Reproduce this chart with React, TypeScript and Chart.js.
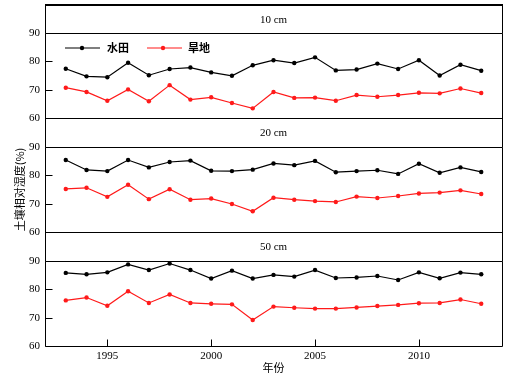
import React, { useEffect, useRef } from 'react';
import { Chart, registerables } from 'chart.js';

Chart.register(...registerables);

// ---------- data ----------
const years = [1993, 1994, 1995, 1996, 1997, 1998, 1999, 2000, 2001, 2002, 2003, 2004, 2005, 2006, 2007, 2008, 2009, 2010, 2011, 2012, 2013];

const paddy10 = [77.4, 74.7, 74.4, 79.5, 75.1, 77.3, 77.8, 76.1, 74.9, 78.6, 80.4, 79.4, 81.4, 76.8, 77.1, 79.2, 77.3, 80.4, 75.0, 78.8, 76.7];
const dry10 = [70.7, 69.2, 66.1, 70.1, 65.9, 71.6, 66.5, 67.3, 65.3, 63.4, 69.2, 67.1, 67.2, 66.1, 68.1, 67.5, 68.1, 68.9, 68.7, 70.4, 68.8];

const paddy20 = [85.4, 81.9, 81.5, 85.4, 82.8, 84.7, 85.2, 81.6, 81.5, 82.0, 84.2, 83.6, 85.1, 81.1, 81.5, 81.8, 80.5, 84.1, 80.9, 82.8, 81.2];
const dry20 = [75.2, 75.6, 72.4, 76.7, 71.6, 75.1, 71.4, 71.8, 69.9, 67.3, 72.1, 71.4, 70.9, 70.6, 72.5, 72.0, 72.7, 73.6, 73.9, 74.7, 73.4];

const paddy50 = [85.8, 85.3, 86.0, 88.8, 86.8, 89.1, 86.8, 83.8, 86.6, 83.8, 85.1, 84.5, 86.8, 84.0, 84.2, 84.7, 83.3, 86.0, 83.9, 85.9, 85.3];
const dry50 = [76.1, 77.1, 74.2, 79.3, 75.2, 78.2, 75.2, 74.9, 74.7, 69.2, 73.9, 73.5, 73.2, 73.2, 73.6, 74.1, 74.5, 75.1, 75.2, 76.4, 74.9];

const depthLabels = ['10 cm', '20 cm', '50 cm'];
const seriesNames = ['水田', '旱地'];
const xTickValues = [1995, 2000, 2005, 2010];
const yMin = 60;
const yMax = 90;
const yStep = 5;
const xMin = 1992;
const xMax = 2014;
const yTitle = '土壤相对湿度(%)';
const xTitle = '年份';

// ---------- layout / style ----------
const W = 529;
const H = 378;
const PLOT_LEFT = 45;
const PLOT_RIGHT = 502;
const panelLayout = [
  { top: 33, bottom: 118, header: 28 },
  { top: 147, bottom: 232, header: 29 },
  { top: 261, bottom: 346, header: 29 },
];
const SERIF = '"Liberation Serif", "Times New Roman", serif';
const CJK = '"Noto Sans CJK SC", "Noto Sans", sans-serif';
const BLACK = '#000000';
const RED = '#ff1a1a';

const panelData = [
  [paddy10, dry10],
  [paddy20, dry20],
  [paddy50, dry50],
];

const px = (v: number) => Math.round(v) + 0.5;

const framePlugin = {
  id: 'panelFrame',
  afterDraw(chart: any, _args: any, opts: any) {
    const { ctx, chartArea } = chart;
    const { left, right, top, bottom } = chartArea;
    const ys = chart.scales.y;
    const xs = chart.scales.x;
    ctx.save();
    ctx.strokeStyle = BLACK;
    ctx.lineWidth = 1;
    // plot frame
    ctx.beginPath();
    ctx.moveTo(px(left), px(top));
    ctx.lineTo(px(right), px(top));
    ctx.lineTo(px(right), px(bottom));
    ctx.lineTo(px(left), px(bottom));
    ctx.closePath();
    ctx.stroke();
    // header strip
    const hTop = top - opts.header;
    ctx.beginPath();
    ctx.moveTo(px(left), px(hTop));
    ctx.lineTo(px(left), px(top));
    ctx.moveTo(px(right), px(hTop));
    ctx.lineTo(px(right), px(top));
    ctx.stroke();
    ctx.beginPath();
    ctx.lineWidth = opts.index === 0 ? 2 : 1;
    ctx.moveTo(px(left) - 0.5, opts.index === 0 ? Math.round(hTop) : px(hTop));
    ctx.lineTo(px(right) + 0.5, opts.index === 0 ? Math.round(hTop) : px(hTop));
    ctx.stroke();
    ctx.lineWidth = 1;
    ctx.fillStyle = BLACK;
    ctx.font = `11px ${SERIF}`;
    ctx.textAlign = 'center';
    ctx.textBaseline = 'middle';
    ctx.fillText(opts.label, (left + right) / 2, hTop + opts.header / 2 + 1);
    // inward y ticks
    ctx.beginPath();
    ys.ticks.forEach((t: any) => {
      const y = px(ys.getPixelForValue(t.value));
      ctx.moveTo(px(left), y);
      ctx.lineTo(px(left) + 7, y);
    });
    // inward x ticks (bottom panel only)
    if (opts.showX) {
      xs.ticks.forEach((t: any) => {
        const x = px(xs.getPixelForValue(t.value));
        ctx.moveTo(x, px(bottom));
        ctx.lineTo(x, px(bottom) - 7);
      });
    }
    ctx.stroke();
    // legend (first panel)
    if (opts.legend) {
      const ly = 48;
      const items = [
        { name: seriesNames[0], color: BLACK, x0: left + 20, x1: left + 55, dot: left + 37, tx: left + 62 },
        { name: seriesNames[1], color: RED, x0: left + 102, x1: left + 137, dot: left + 118, tx: left + 143 },
      ];
      items.forEach((it) => {
        ctx.strokeStyle = it.color;
        ctx.fillStyle = it.color;
        ctx.lineWidth = 1.2;
        ctx.beginPath();
        ctx.moveTo(it.x0, ly);
        ctx.lineTo(it.x1, ly);
        ctx.stroke();
        ctx.beginPath();
        ctx.arc(it.dot, ly, 2.2, 0, Math.PI * 2);
        ctx.fill();
        ctx.fillStyle = BLACK;
        ctx.font = `bold 11px ${CJK}`;
        ctx.textAlign = 'left';
        ctx.textBaseline = 'middle';
        ctx.fillText(it.name, it.tx, ly);
      });
    }
    ctx.restore();
  },
};

function makeConfig(i: number): any {
  const lay = panelLayout[i];
  const [paddy, dry] = panelData[i];
  const isBottom = i === 2;
  const ds = (vals: number[], color: string, name: string) => ({
    label: name,
    data: years.map((x, k) => ({ x, y: vals[k] })),
    borderColor: color,
    backgroundColor: color,
    borderWidth: 1.2,
    pointRadius: 2.2,
    pointBorderWidth: 0,
    pointHoverRadius: 2.2,
    tension: 0,
    fill: false,
  });
  return {
    type: 'line',
    data: {
      datasets: [ds(paddy, BLACK, seriesNames[0]), ds(dry, RED, seriesNames[1])],
    },
    options: {
      responsive: false,
      animation: false,
      devicePixelRatio: 1,
      events: [],
      layout: {
        padding: {
          left: 0,
          right: W - PLOT_RIGHT,
          top: lay.top,
          bottom: isBottom ? 0 : H - lay.bottom,
        },
      },
      scales: {
        x: {
          type: 'linear',
          min: xMin,
          max: xMax,
          display: isBottom,
          afterBuildTicks: (s: any) => {
            s.ticks = xTickValues.map((v) => ({ value: v }));
          },
          afterFit: (s: any) => {
            if (isBottom) s.height = H - lay.bottom;
          },
          grid: { display: false, drawTicks: false },
          border: { display: false },
          ticks: {
            color: BLACK,
            font: { family: SERIF, size: 11 },
            padding: 4,
            maxRotation: 0,
            autoSkip: false,
            callback: (v: any) => String(v),
          },
          title: {
            display: isBottom,
            text: xTitle,
            color: BLACK,
            font: { family: CJK, size: 11 },
            padding: { top: 0, bottom: 4 },
          },
        },
        y: {
          type: 'linear',
          min: yMin,
          max: yMax,
          afterFit: (s: any) => {
            s.width = PLOT_LEFT;
          },
          grid: { display: false, drawTicks: false },
          border: { display: false },
          ticks: {
            stepSize: yStep,
            color: BLACK,
            font: { family: SERIF, size: 11 },
            padding: 5,
          },
          title: {
            display: i === 1,
            text: yTitle,
            color: BLACK,
            font: { family: CJK, size: 11 },
            padding: { top: 13, bottom: 0 },
          },
        },
      },
      plugins: {
        legend: { display: false },
        tooltip: { enabled: false },
        panelFrame: {
          label: depthLabels[i],
          header: lay.header,
          index: i,
          showX: isBottom,
          legend: i === 0,
        },
      },
    },
    plugins: [framePlugin],
  };
}

export default function App() {
  const refs = [useRef<HTMLCanvasElement>(null), useRef<HTMLCanvasElement>(null), useRef<HTMLCanvasElement>(null)];

  useEffect(() => {
    const charts = refs.map((r, i) => new Chart(r.current as HTMLCanvasElement, makeConfig(i)));
    return () => charts.forEach((c) => c.destroy());
  }, []);

  return (
    <div style={{ position: 'absolute', left: 0, top: 0, width: W, height: H, background: '#fff' }}>
      {refs.map((r, i) => (
        <canvas
          key={i}
          ref={r}
          width={W}
          height={H}
          style={{ position: 'absolute', left: 0, top: 0, width: W, height: H }}
        />
      ))}
    </div>
  );
}
